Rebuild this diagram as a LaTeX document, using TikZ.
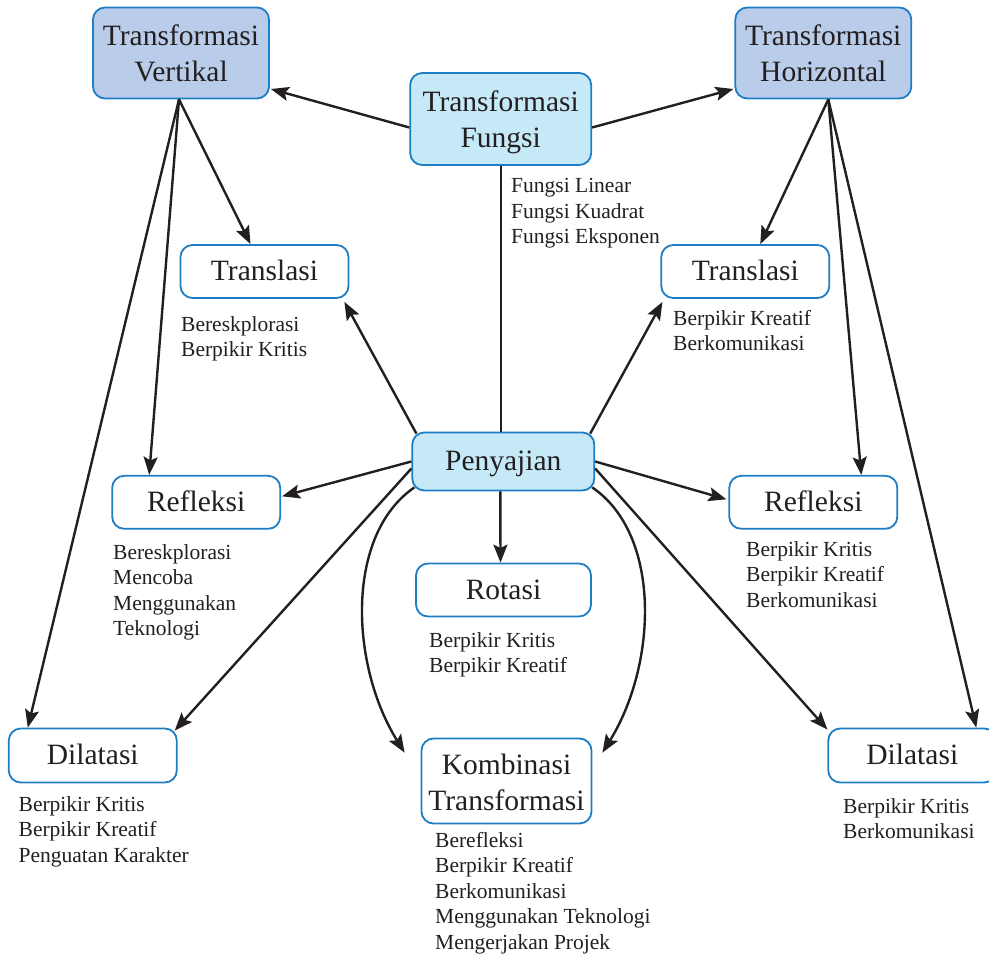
\documentclass[tikz,border=0pt]{standalone}
\usepackage{fontspec}
\setmainfont{Liberation Serif}
\usetikzlibrary{arrows.meta,calc}
\definecolor{bordc}{RGB}{30,125,195}
\definecolor{fillv}{RGB}{185,204,234}
\definecolor{fillf}{RGB}{198,233,248}
\definecolor{inkc}{RGB}{35,31,32}
\newcommand{\mylist}[1]{\begin{tabular}[t]{@{}l@{}}#1\end{tabular}}
\newcommand{\mystack}[1]{\begin{tabular}[t]{@{}c@{}}#1\end{tabular}}
\tikzset{
  box/.style={draw=bordc, line width=1.8pt, rounded corners=12pt, rectangle, inner sep=0pt, text=inkc, font=\fontsize{29.5}{36}\selectfont},
  onebox/.style={box, fill=white, minimum width=168pt, minimum height=53pt, text height=23pt, text depth=5pt},
  twobox/.style={box, text height=26pt, text depth=40pt},
  note/.style={anchor=base west, inner sep=0pt, text=inkc, font=\fontsize{21.5}{25.5}\selectfont},
  arr/.style={draw=inkc, line width=2.4pt, -{Stealth[length=18pt,width=14pt,inset=3.5pt]}},
  link/.style={draw=inkc, line width=2.4pt},
}
\begin{document}
\begin{tikzpicture}[x=1pt,y=-1pt]
\useasboundingbox (0,0) rectangle (989,955);
\clip (0,0) rectangle (989,955);
% boxes
\node[twobox, fill=fillv, minimum width=176pt, minimum height=91pt] (tv) at (181,53) {\mystack{Transformasi\\Vertikal}};
\node[twobox, fill=fillf, minimum width=181pt, minimum height=92pt] (tf) at (500.7,119) {\mystack{Transformasi\\Fungsi}};
\node[twobox, fill=fillv, minimum width=176pt, minimum height=91pt] (th) at (823.3,53) {\mystack{Transformasi\\Horizontal}};
\node[onebox] (trl) at (264.5,271.5) {Translasi};
\node[onebox] (trr) at (745.3,271.5) {Translasi};
\node[onebox, fill=fillf, minimum width=182pt, minimum height=58pt] (pen) at (503.3,461.5) {Penyajian};
\node[onebox] (refl) at (196.2,502.3) {Refleksi};
\node[onebox] (refr) at (813.3,502.3) {Refleksi};
\node[onebox, minimum width=175pt] (rot) at (503.5,590) {Rotasi};
\node[onebox, minimum height=54pt] (dill) at (92.8,755.5) {Dilatasi};
\node[twobox, fill=white, minimum width=170pt, minimum height=85pt] (kom) at (506.5,781) {\mystack{Kombinasi\\Transformasi}};
\node[onebox, minimum height=54pt] (dilr) at (912.3,755.5) {Dilatasi};
% notes
\node[note] (nf) at (511,193) {\mylist{Fungsi Linear\\Fungsi Kuadrat\\Fungsi Eksponen}};
\node[note] (ntrl) at (181,331) {\mylist{Bereskplorasi\\Berpikir Kritis}};
\node[note] (ntrr) at (673,325) {\mylist{Berpikir Kreatif\\Berkomunikasi}};
\node[note] (nrefl) at (113,559) {\mylist{Bereskplorasi\\Mencoba\\Menggunakan\\Teknologi}};
\node[note] (nrefr) at (746,556) {\mylist{Berpikir Kritis\\Berpikir Kreatif\\Berkomunikasi}};
\node[note] (nrot) at (429,647) {\mylist{Berpikir Kritis\\Berpikir Kreatif}};
\node[note] (ndill) at (18.5,811) {\mylist{Berpikir Kritis\\Berpikir Kreatif\\Penguatan Karakter}};
\node[note] (nkom) at (435,847) {\mylist{Berefleksi\\Berpikir Kreatif\\Berkomunikasi\\Menggunakan Teknologi\\Mengerjakan Projek}};
\node[note] (ndilr) at (843,813) {\mylist{Berpikir Kritis\\Berkomunikasi}};
% connectors from Transformasi Fungsi
\draw[arr] ($(tf.west)+(0,8.5)$) -- ($(tv.east)+(1,36)$);
\draw[arr] ($(tf.east)+(0,8.5)$) -- ($(th.west)+(-1,36)$);
\draw[link] (tf.south) -- (tf.south |- pen.north);
% from Transformasi Vertikal
\draw[arr] ($(tv.south)+(-2,0)$) -- ($(trl.north)+(-14,0)$);
\draw[arr] ($(tv.south)+(-2,0)$) -- ($(refl.north)+(-47,0)$);
\draw[arr] ($(tv.south)+(-2,0)$) -- ($(dill.north)+(-65,0)$);
% from Transformasi Horizontal
\draw[arr] ($(th.south)+(5,0)$) -- ($(trr.north)+(15,0)$);
\draw[arr] ($(th.south)+(5,0)$) -- ($(refr.north)+(48,0)$);
\draw[arr] ($(th.south)+(5,0)$) -- ($(dilr.north)+(64,0)$);
% from Penyajian
\draw[arr] ($(pen.north west)+(5,2)$) -- ($(trl.south east)+(-5,3)$);
\draw[arr] ($(pen.north east)+(-5,2)$) -- ($(trr.south west)+(2,3)$);
\draw[arr] (pen.west) -- ($(refl.east)+(1,-6)$);
\draw[arr] (pen.east) -- ($(refr.west)+(-2,-3)$);
\draw[arr] ($(pen.south)+(-3,0)$) -- ($(rot.north)+(-3,0)$);
\draw[arr] ($(pen.west)+(0,7)$) -- ($(dill.north east)+(-3,3)$);
\draw[arr] ($(pen.east)+(0,7)$) -- ($(dilr.north west)+(0,2)$);
\draw[arr] ($(pen.south west)+(3,-4)$) .. controls (345,535) and (350,665) .. ($(kom.north west)+(-16,15)$);
\draw[arr] ($(pen.south east)+(-3,-4)$) .. controls (662,535) and (657,665) .. ($(kom.north east)+(10,15)$);
\end{tikzpicture}
\end{document}
